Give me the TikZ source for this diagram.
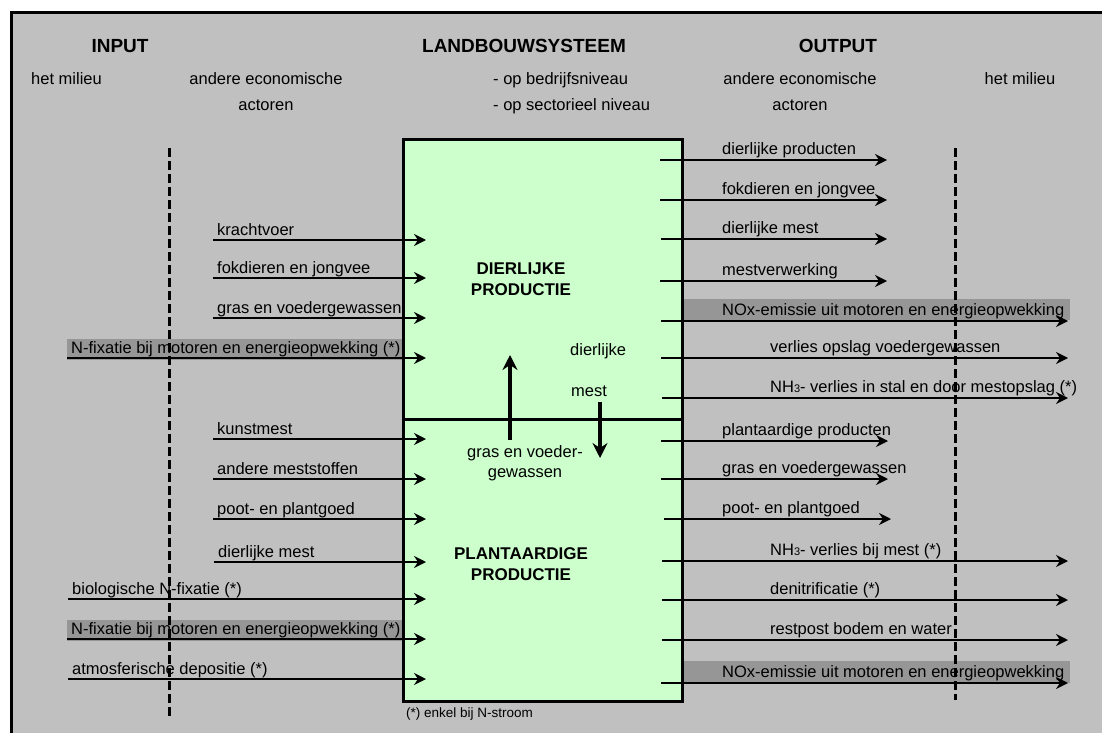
\documentclass[tikz,border=0pt]{standalone}
\usepackage{fontspec}
\setmainfont{Liberation Sans}
\usetikzlibrary{arrows.meta}
\definecolor{bggray}{HTML}{C0C0C0}
\definecolor{hlgray}{HTML}{969696}
\definecolor{boxgreen}{HTML}{CCFFCC}
\begin{document}
\begin{tikzpicture}[x=1pt,y=-1pt,
  flow/.style={line width=2.8pt,-{Stealth[length=12pt,width=12pt,inset=4pt]}},
  bigflow/.style={line width=4pt,-{Stealth[length=15pt,width=15pt,inset=5pt]}},
  lbl/.style={anchor=base west,inner sep=0pt,font=\fontsize{16.5}{19}\selectfont},
  ctr/.style={anchor=base,inner sep=0pt,font=\fontsize{16.5}{19}\selectfont},
  ttl/.style={anchor=base,inner sep=0pt,font=\fontsize{19}{22}\selectfont\bfseries},
  boxttl/.style={anchor=base,inner sep=0pt,font=\fontsize{17}{20}\selectfont\bfseries},
  hl/.style={fill=hlgray,draw=none},
  divider/.style={line width=3pt,dash pattern=on 9pt off 4pt}]
\useasboundingbox (0,0) rectangle (1102,733);
\fill[white] (0,0) rectangle (1102,733);
\fill[bggray] (11,13) rectangle (1102,733);
\draw[line width=3pt] (11,733) -- (11,13) -- (1102,13);

% headers
\node[ttl] (tin) at (120,53) {INPUT};
\node[ttl] (tsys) at (524,53) {LANDBOUWSYSTEEM};
\node[ttl] (tout) at (838,53) {OUTPUT};
\node[lbl] (hm1) at (31,85) {het milieu};
\node[ctr] (ae1) at (266,85) {andere economische};
\node[ctr] (ac1) at (266,111) {actoren};
\node[lbl] (bn) at (493,85) {- op bedrijfsniveau};
\node[lbl] (sn) at (493,111) {- op sectorieel niveau};
\node[ctr] (ae2) at (800,85) {andere economische};
\node[ctr] (ac2) at (800,111) {actoren};
\node[ctr] (hm2) at (1020,85) {het milieu};

% highlights
\fill[hl] (67,339) rectangle (402,360);
\fill[hl] (67,620) rectangle (402,641);
\fill[hl] (682,299) rectangle (1070,320);
\fill[hl] (682,661) rectangle (1070,683);

% system box
\node[draw,line width=3pt,fill=boxgreen,minimum width=279pt,minimum height=562pt,inner sep=0pt,anchor=north west] (sys) at (402,138) {};
\coordinate (dl) at (402,419);
\coordinate (dr) at (681,419);
\draw[line width=3pt] (dl) -- (dr);

% dashed boundaries
\coordinate (d1a) at (169,148); \coordinate (d1b) at (169,718);
\coordinate (d2a) at (955,148); \coordinate (d2b) at (955,700);
\draw[divider] (d1a) -- (d1b);
\draw[divider] (d2a) -- (d2b);

% input arrows
\foreach \i/\y/\xs/\t in {
  1/240/213/krachtvoer,
  2/278/213/fokdieren en jongvee,
  3/318/213/gras en voedergewassen,
  4/358/67/N-fixatie bij motoren en energieopwekking (*),
  5/439/213/kunstmest,
  6/479/213/andere meststoffen,
  7/519/213/poot- en plantgoed,
  8/562/214/dierlijke mest,
  9/599/68/biologische N-fixatie (*),
  10/639/67/N-fixatie bij motoren en energieopwekking (*),
  11/679/68/atmosferische depositie (*)}{
  \coordinate (ls\i) at (\xs,\y);
  \coordinate (le\i) at (426,\y);
  \node[lbl] (lt\i) at (\xs+4,\y-5) {\t};
  \draw[flow] (ls\i) -- (le\i);
}

% output arrows
\foreach \i/\y/\xs/\xe/\xt/\t in {
  1/160/660/887/722/dierlijke producten,
  2/200/660/887/722/fokdieren en jongvee,
  3/239/661/887/722/dierlijke mest,
  4/281/660/887/722/mestverwerking,
  5/321/661/1068/722/NOx-emissie uit motoren en energieopwekking,
  6/358/661/1068/770/verlies opslag voedergewassen,
  7/398/662/1068/770/{NH{\fontsize{11}{11}\selectfont 3}- verlies in stal en door mestopslag (*)},
  8/441/661/888/722/plantaardige producten,
  9/479/661/888/722/gras en voedergewassen,
  10/519/664/891/722/poot- en plantgoed,
  11/561/662/1068/770/{NH{\fontsize{11}{11}\selectfont 3}- verlies bij mest (*)},
  12/600/662/1068/770/denitrificatie (*),
  13/640/662/1068/770/restpost bodem en water,
  14/683/661/1068/722/NOx-emissie uit motoren en energieopwekking}{
  \coordinate (rs\i) at (\xs,\y);
  \coordinate (re\i) at (\xe,\y);
  \node[lbl] (rt\i) at (\xt,\y-6) {\t};
  \draw[flow] (rs\i) -- (re\i);
}

% box contents
\node[boxttl] (dp1) at (521,274) {DIERLIJKE};
\node[boxttl] (dp2) at (521,295) {PRODUCTIE};
\node[boxttl] (pp1) at (521,559) {PLANTAARDIGE};
\node[boxttl] (pp2) at (521,580) {PRODUCTIE};
\node[lbl] (dm1) at (570,355) {dierlijke};
\node[lbl] (dm2) at (571,396) {mest};
\node[ctr] (gv1) at (525,457) {gras en voeder-};
\node[ctr] (gv2) at (525,477) {gewassen};
\coordinate (ua) at (510,440); \coordinate (ub) at (510,355);
\coordinate (da) at (600,402); \coordinate (db) at (600,458);
\draw[bigflow] (ua) -- (ub);
\draw[bigflow] (da) -- (db);

\node[anchor=base west,inner sep=0pt,font=\fontsize{13.5}{15}\selectfont] (note) at (406,717) {(*) enkel bij N-stroom};
\end{tikzpicture}
\end{document}
